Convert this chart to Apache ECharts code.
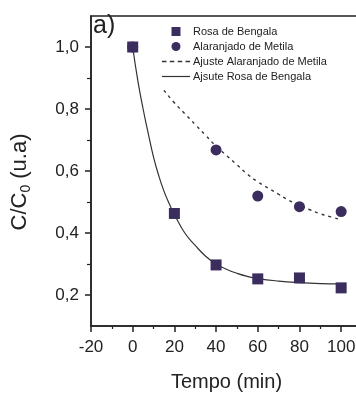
<!DOCTYPE html>
<html>
<head>
<meta charset="utf-8">
<script src="https://cdn.jsdelivr.net/npm/echarts@6/dist/echarts.min.js"></script>
<style>
html,body{margin:0;padding:0;background:#fff;}
#chart{width:356px;height:394px;}
</style>
</head>
<body>
<div id="chart"></div>
<script>
// Measured data (t in min, C/C0)
const rbTime = [0, 20, 40, 60, 80, 100];
const rbValues = [1.0, 0.463, 0.297, 0.252, 0.255, 0.223];
const moTime = [0, 40, 60, 80, 100];
const moValues = [1.0, 0.668, 0.519, 0.485, 0.469];
// Fitted curves
const rbFitTime = [0, 2.5, 5, 7.5, 10, 12.5, 15, 17.5, 20, 25, 30, 35, 40, 45, 50, 55, 60, 70, 80, 90, 100];
const rbFitValues = [1.0, 0.89, 0.80, 0.72, 0.645, 0.585, 0.535, 0.495, 0.46, 0.40, 0.36, 0.325, 0.30, 0.283, 0.27, 0.26, 0.253, 0.245, 0.24, 0.237, 0.236];
const moFitTime = [15, 20, 25, 30, 35, 40, 45, 50, 55, 60, 65, 70, 75, 80, 85, 90, 95, 100];
const moFitValues = [0.86, 0.82, 0.785, 0.75, 0.715, 0.68, 0.65, 0.62, 0.59, 0.565, 0.545, 0.525, 0.505, 0.49, 0.475, 0.462, 0.452, 0.443];
const yMajor = [0.2, 0.4, 0.6, 0.8, 1.0];
const yMinor = [0.3, 0.5, 0.7, 0.9];
const legendNames = ['Rosa de Bengala', 'Alaranjado de Metila', 'Ajuste Alaranjado de Metila', 'Ajsute Rosa de Bengala'];

const zip = (a, b) => a.map((v, i) => [v, b[i]]);
const ink = '#222222';
const markerColor = '#3b2e5e';
const font = 'Liberation Sans, Arial, sans-serif';

const legendIcons = [
  'path://M0,0h10v10h-10z',
  'circle',
  'path://M0,0h4v1.4h-4zM7,0h4v1.4h-4zM14,0h4v1.4h-4zM21,0h4v1.4h-4z',
  'path://M0,0h28v1.2h-28z'
];

const chart = echarts.init(document.getElementById('chart'), null, {renderer: 'canvas'});
chart.setOption({
  animation: false,
  backgroundColor: '#ffffff',
  title: {
    text: 'a)', left: 93, top: 14, padding: 0,
    textStyle: {fontFamily: font, fontSize: 25, fontWeight: 'normal', color: ink}
  },
  legend: {
    orient: 'vertical', left: 162, top: 25, padding: 0,
    itemWidth: 28, itemHeight: 9, itemGap: 2, symbolKeepAspect: true,
    data: legendNames.map((n, i) => ({name: n, icon: legendIcons[i]})),
    textStyle: {fontFamily: font, fontSize: 11, color: ink, lineHeight: 13, padding: [0, 0, 0, -2]}
  },
  grid: {
    left: 91, top: 16, bottom: 68, right: -6,
    outerBoundsMode: 'none', containLabel: false,
    show: true, borderColor: ink, borderWidth: 1.5, backgroundColor: 'transparent'
  },
  xAxis: {
    type: 'value', min: -20, max: 110, interval: 20,
    name: 'Tempo (min)', nameLocation: 'middle', nameGap: 46,
    nameTextStyle: {fontFamily: font, fontSize: 20, color: ink},
    splitLine: {show: false},
    axisLine: {onZero: false, lineStyle: {color: ink, width: 1.5}},
    axisTick: {length: 6, lineStyle: {color: ink, width: 1.5}},
    minorTick: {show: true, splitNumber: 2, length: 3, lineStyle: {color: ink, width: 1.2}},
    axisLabel: {
      fontFamily: font, fontSize: 17, color: ink, margin: 13,
      formatter: v => (v > 100 ? '' : String(v))
    }
  },
  yAxis: [{
    type: 'value', min: 0.1, max: 1.1,
    name: '{n|C/C}{s|0}{n| (u.a)}', nameLocation: 'middle', nameGap: 58, nameRotate: 90,
    nameTextStyle: {
      fontFamily: font, color: ink, padding: [0, 22, 0, 0],
      rich: {
        n: {fontFamily: font, fontSize: 22, color: ink},
        s: {fontFamily: font, fontSize: 14, color: ink, verticalAlign: 'bottom', padding: [12, 0, 0, 0]}
      }
    },
    splitLine: {show: false},
    axisLine: {onZero: false, lineStyle: {color: ink, width: 1.5}},
    axisTick: {customValues: yMajor, length: 6, lineStyle: {color: ink, width: 1.5}},
    axisLabel: {
      customValues: yMajor, fontFamily: font, fontSize: 17, color: ink, margin: 12,
      formatter: v => v.toFixed(1).replace('.', ',')
    }
  }, {
    type: 'value', min: 0.1, max: 1.1, position: 'left',
    splitLine: {show: false},
    axisLine: {show: false, onZero: false},
    axisTick: {customValues: yMinor, length: 4, lineStyle: {color: ink, width: 1.2}},
    axisLabel: {show: false}
  }],
  series: [{
    name: 'Ajsute Rosa de Bengala', type: 'line', smooth: true, symbol: 'none',
    data: zip(rbFitTime, rbFitValues), z: 2,
    lineStyle: {color: '#333333', width: 1.2}, itemStyle: {color: '#333333'}
  }, {
    name: 'Ajuste Alaranjado de Metila', type: 'line', smooth: true, symbol: 'none',
    data: zip(moFitTime, moFitValues), z: 2,
    lineStyle: {color: '#333333', width: 1.4, type: [3, 4]}, itemStyle: {color: '#333333'}
  }, {
    name: 'Alaranjado de Metila', type: 'scatter', symbol: 'circle', symbolSize: 11,
    data: zip(moTime, moValues), z: 3,
    itemStyle: {color: markerColor, opacity: 1}
  }, {
    name: 'Rosa de Bengala', type: 'scatter', symbol: 'rect', symbolSize: 11,
    data: zip(rbTime, rbValues), z: 4,
    itemStyle: {color: markerColor, opacity: 1}
  }]
});
</script>
</body>
</html>
